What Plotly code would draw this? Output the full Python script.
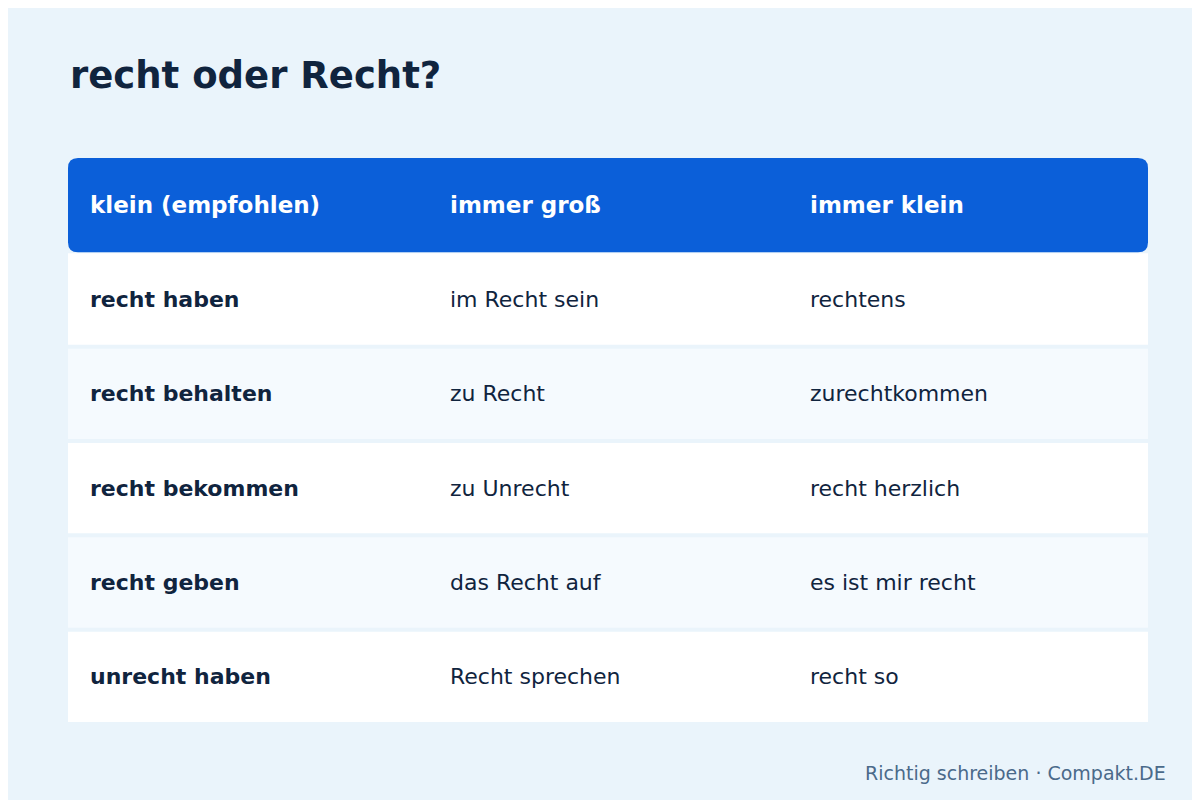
import plotly.graph_objects as go

title = "recht oder Recht?"
headers = ["klein (empfohlen)", "immer groß", "immer klein"]
col_klein = ["recht haben", "recht behalten", "recht bekommen", "recht geben", "unrecht haben"]
col_gross = ["im Recht sein", "zu Recht", "zu Unrecht", "das Recht auf", "Recht sprechen"]
col_immerklein = ["rechtens", "zurechtkommen", "recht herzlich", "es ist mir recht", "recht so"]
footer = "Richtig schreiben · Compakt.DE"

BG = "#EAF4FB"
HEAD = "#0B5FD9"
DARK = "#10243E"
FONT = "DejaVu Sans"

cols = [col_klein, col_gross, col_immerklein]
nrows = len(col_klein)
ncols = len(headers)
W, H = 1200, 800
L, R, T, B = 60, 60, 150, 84
px_x = ncols / (W - L - R)
px_y = (nrows + 1) / (H - T - B)

fig = go.Figure()
fig.add_trace(go.Scatter(x=[0, ncols], y=[0, nrows + 1], mode="markers",
                         marker=dict(opacity=0), hoverinfo="skip", showlegend=False))
shapes = []
annotations = []
# header rounded rect
rx, ry = 10 * px_x, 10 * px_y
x0, x1, y0, y1 = 0, ncols, 0, 1
path = (f"M {x0+rx},{y0} L {x1-rx},{y0} Q {x1},{y0} {x1},{y0+ry} "
        f"L {x1},{y1-ry} Q {x1},{y1} {x1-rx},{y1} L {x0+rx},{y1} "
        f"Q {x0},{y1} {x0},{y1-ry} L {x0},{y0+ry} Q {x0},{y0} {x0+rx},{y0} Z")
shapes.append(dict(type="path", path=path, fillcolor=HEAD, line=dict(width=0), layer="below"))
gap = 2 * px_y
for i in range(nrows):
    yy0 = i + 1 + (gap if i > 0 else gap / 2)
    yy1 = i + 2 - gap
    shapes.append(dict(type="rect", x0=0, x1=ncols, y0=yy0, y1=yy1,
                       fillcolor="#FFFFFF" if i % 2 == 0 else "#F5FAFE",
                       line=dict(width=0), layer="below"))
for j, h in enumerate(headers):
    annotations.append(dict(x=j + 20 * px_x, y=0.5, text=f"<b>{h}</b>", showarrow=False,
                            xanchor="left", yanchor="middle",
                            font=dict(family=FONT, size=23, color="white")))
for j, c in enumerate(cols):
    for i, v in enumerate(c):
        t = f"<b>{v}</b>" if j == 0 else v
        annotations.append(dict(x=j + 20 * px_x, y=i + 1.5, text=t, showarrow=False,
                                xanchor="left", yanchor="middle",
                                font=dict(family=FONT, size=22, color=DARK)))
annotations.append(dict(x=60 / W, y=1 - 67 / H, xref="paper", yref="paper", text=f"<b>{title}</b>",
                        showarrow=False, xanchor="left", yanchor="middle",
                        font=dict(family=FONT, size=37, color=DARK)))
annotations.append(dict(x=1160 / W, y=1 - 765 / H, xref="paper", yref="paper", text=footer,
                        showarrow=False, xanchor="right", yanchor="middle",
                        font=dict(family=FONT, size=19, color="#4A6A8A")))
# move paper-ref annotations: paper coords here refer to plot area; convert
for a in annotations:
    if a.get("xref") == "paper":
        px = a["x"] * W
        py = (1 - a["y"]) * H
        a["x"] = (px - L) / (W - L - R)
        a["y"] = 1 - (py - T) / (H - T - B)

fig.update_layout(width=W, height=H, margin=dict(l=L, r=R, t=T, b=B),
                  paper_bgcolor=BG, plot_bgcolor=BG, shapes=shapes, annotations=annotations,
                  xaxis=dict(range=[0, ncols], visible=False, fixedrange=True),
                  yaxis=dict(range=[nrows + 1, 0], visible=False, fixedrange=True))
fig.write_html("out.html")
